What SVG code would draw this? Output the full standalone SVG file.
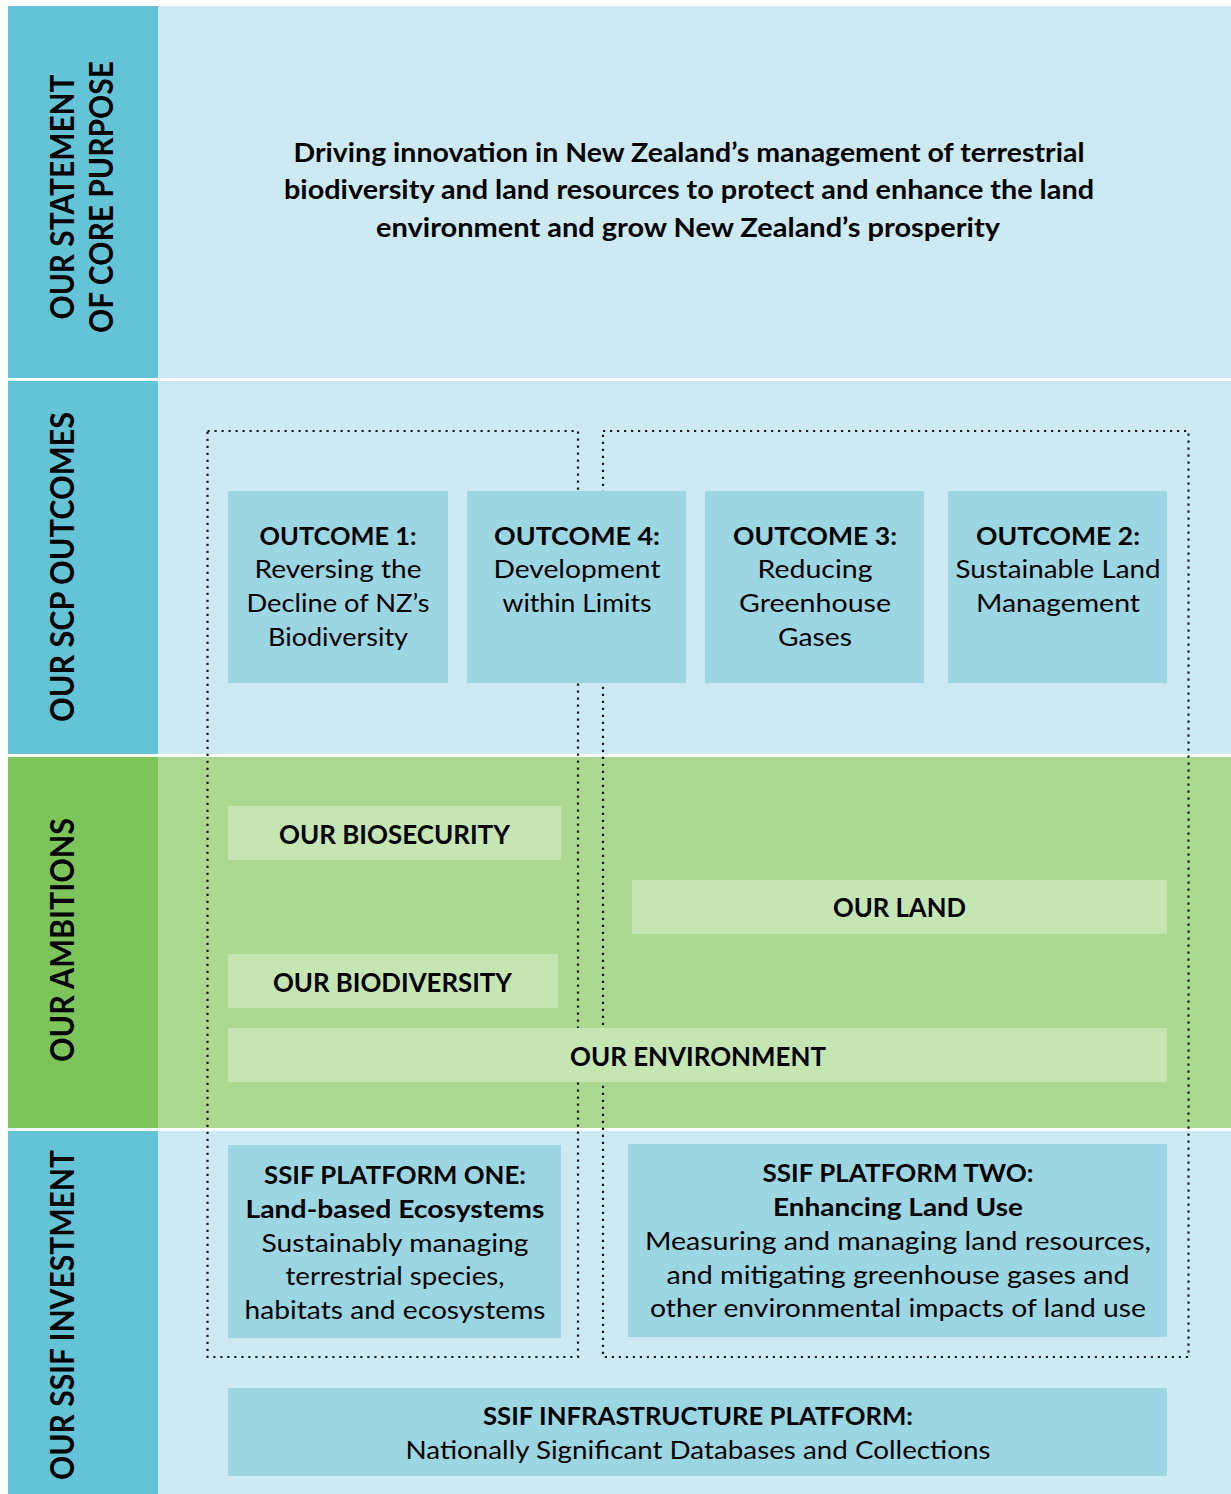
<svg xmlns="http://www.w3.org/2000/svg" width="1231" height="1494" viewBox="0 0 1231 1494">
<style>
text{font-family:Lato,"Open Sans","Liberation Sans",sans-serif;fill:#000;text-anchor:middle}
.b{font-weight:700}
.side{font-size:33px;font-weight:700}
.main{font-size:26px;font-weight:700}
.t{font-size:25px}
.amb{font-size:27px;font-weight:700}
.lh{fill:#CDEAF2}
.lc{fill:#65C3D6}
.box{fill:#9CD6E3}
.gh{fill:#ACD991}
.gc{fill:#7DC55A}
.gb{fill:#C5E5B3}
.dot{fill:none;stroke:#1a1a1a;stroke-width:2.2;stroke-dasharray:2.2 4.8}
</style>
<rect width="1231" height="1494" fill="#fff"/>
<g id="rows">
<rect class="lc" x="8" y="6" width="150" height="372"/>
<rect class="lh" x="158" y="6" width="1073" height="372"/>
<rect class="lc" x="8" y="381" width="150" height="373"/>
<rect class="lh" x="158" y="381" width="1073" height="373"/>
<rect class="gc" x="8" y="757" width="150" height="371"/>
<rect class="gh" x="158" y="757" width="1073" height="371"/>
<rect class="lc" x="8" y="1131" width="150" height="363"/>
<rect class="lh" x="158" y="1131" width="1073" height="363"/>
</g>
<g id="row-labels">
<text class="side" transform="translate(74,197) rotate(-90)" textLength="245" lengthAdjust="spacingAndGlyphs">OUR STATEMENT</text>
<text class="side" transform="translate(113,197) rotate(-90)" textLength="272" lengthAdjust="spacingAndGlyphs">OF CORE PURPOSE</text>
<text class="side" transform="translate(74,567) rotate(-90)" textLength="310" lengthAdjust="spacingAndGlyphs">OUR SCP OUTCOMES</text>
<text class="side" transform="translate(74,940) rotate(-90)" textLength="244" lengthAdjust="spacingAndGlyphs">OUR AMBITIONS</text>
<text class="side" transform="translate(74,1315) rotate(-90)" textLength="330" lengthAdjust="spacingAndGlyphs">OUR SSIF INVESTMENT</text>
</g>
<g id="core-purpose">
<text class="main" x="689" y="162" textLength="791" lengthAdjust="spacingAndGlyphs">Driving innovation in New Zealand’s management of terrestrial</text>
<text class="main" x="689" y="199" textLength="810" lengthAdjust="spacingAndGlyphs">biodiversity and land resources to protect and enhance the land</text>
<text class="main" x="688" y="237" textLength="624" lengthAdjust="spacingAndGlyphs">environment and grow New Zealand’s prosperity</text>
</g>
<g id="connectors">
<rect class="dot" x="207.5" y="431" width="370.5" height="926"/>
<rect class="dot" x="603" y="431" width="585.5" height="926"/>
</g>
<g id="outcome1">
<rect class="box" x="228" y="491" width="220" height="192"/>
<text class="t b" x="338" y="545" textLength="157" lengthAdjust="spacingAndGlyphs">OUTCOME 1:</text>
<text class="t" x="338" y="578" textLength="167" lengthAdjust="spacingAndGlyphs">Reversing the</text>
<text class="t" x="338" y="612" textLength="183" lengthAdjust="spacingAndGlyphs">Decline of NZ’s</text>
<text class="t" x="338" y="646" textLength="140" lengthAdjust="spacingAndGlyphs">Biodiversity</text>
</g>
<g id="outcome4">
<rect class="box" x="467" y="491" width="219" height="192"/>
<text class="t b" x="577" y="545" textLength="166" lengthAdjust="spacingAndGlyphs">OUTCOME 4:</text>
<text class="t" x="577" y="578" textLength="167" lengthAdjust="spacingAndGlyphs">Development</text>
<text class="t" x="577" y="612" textLength="149" lengthAdjust="spacingAndGlyphs">within Limits</text>
</g>
<g id="outcome3">
<rect class="box" x="705" y="491" width="219" height="192"/>
<text class="t b" x="815" y="545" textLength="164" lengthAdjust="spacingAndGlyphs">OUTCOME 3:</text>
<text class="t" x="815" y="578" textLength="115" lengthAdjust="spacingAndGlyphs">Reducing</text>
<text class="t" x="815" y="612" textLength="152" lengthAdjust="spacingAndGlyphs">Greenhouse</text>
<text class="t" x="815" y="646" textLength="74" lengthAdjust="spacingAndGlyphs">Gases</text>
</g>
<g id="outcome2">
<rect class="box" x="948" y="491" width="219" height="192"/>
<text class="t b" x="1058" y="545" textLength="164" lengthAdjust="spacingAndGlyphs">OUTCOME 2:</text>
<text class="t" x="1058" y="578" textLength="205" lengthAdjust="spacingAndGlyphs">Sustainable Land</text>
<text class="t" x="1058" y="612" textLength="164" lengthAdjust="spacingAndGlyphs">Management</text>
</g>
<g id="biosecurity">
<rect class="gb" x="228" y="806" width="333" height="54"/>
<text class="amb" x="394.5" y="844" textLength="231" lengthAdjust="spacingAndGlyphs">OUR BIOSECURITY</text>
</g>
<g id="land">
<rect class="gb" x="632" y="880" width="535" height="54"/>
<text class="amb" x="899.5" y="917" textLength="133" lengthAdjust="spacingAndGlyphs">OUR LAND</text>
</g>
<g id="biodiversity">
<rect class="gb" x="228" y="954" width="330" height="54"/>
<text class="amb" x="392.5" y="992" textLength="239" lengthAdjust="spacingAndGlyphs">OUR BIODIVERSITY</text>
</g>
<g id="environment">
<rect class="gb" x="228" y="1028" width="939" height="54"/>
<text class="amb" x="698" y="1066" textLength="256" lengthAdjust="spacingAndGlyphs">OUR ENVIRONMENT</text>
</g>
<g id="platform-one">
<rect class="box" x="228" y="1145" width="333" height="193"/>
<text class="t b" x="395" y="1184" textLength="262" lengthAdjust="spacingAndGlyphs">SSIF PLATFORM ONE:</text>
<text class="t b" x="395" y="1218" textLength="299" lengthAdjust="spacingAndGlyphs">Land-based Ecosystems</text>
<text class="t" x="395" y="1252" textLength="267" lengthAdjust="spacingAndGlyphs">Sustainably managing</text>
<text class="t" x="395" y="1285" textLength="219" lengthAdjust="spacingAndGlyphs">terrestrial species,</text>
<text class="t" x="395" y="1319" textLength="301" lengthAdjust="spacingAndGlyphs">habitats and ecosystems</text>
</g>
<g id="platform-two">
<rect class="box" x="628" y="1144" width="539" height="193"/>
<text class="t b" x="898" y="1182" textLength="271" lengthAdjust="spacingAndGlyphs">SSIF PLATFORM TWO:</text>
<text class="t b" x="898" y="1216" textLength="250" lengthAdjust="spacingAndGlyphs">Enhancing Land Use</text>
<text class="t" x="898" y="1250" textLength="506" lengthAdjust="spacingAndGlyphs">Measuring and managing land resources,</text>
<text class="t" x="898" y="1284" textLength="463" lengthAdjust="spacingAndGlyphs">and mitigating greenhouse gases and</text>
<text class="t" x="898" y="1317" textLength="496" lengthAdjust="spacingAndGlyphs">other environmental impacts of land use</text>
</g>
<g id="infrastructure">
<rect class="box" x="228" y="1388" width="939" height="88"/>
<text class="t b" x="698" y="1425" textLength="430" lengthAdjust="spacingAndGlyphs">SSIF INFRASTRUCTURE PLATFORM:</text>
<text class="t" x="698" y="1459" textLength="585" lengthAdjust="spacingAndGlyphs">Nationally Significant Databases and Collections</text>
</g>
</svg>
